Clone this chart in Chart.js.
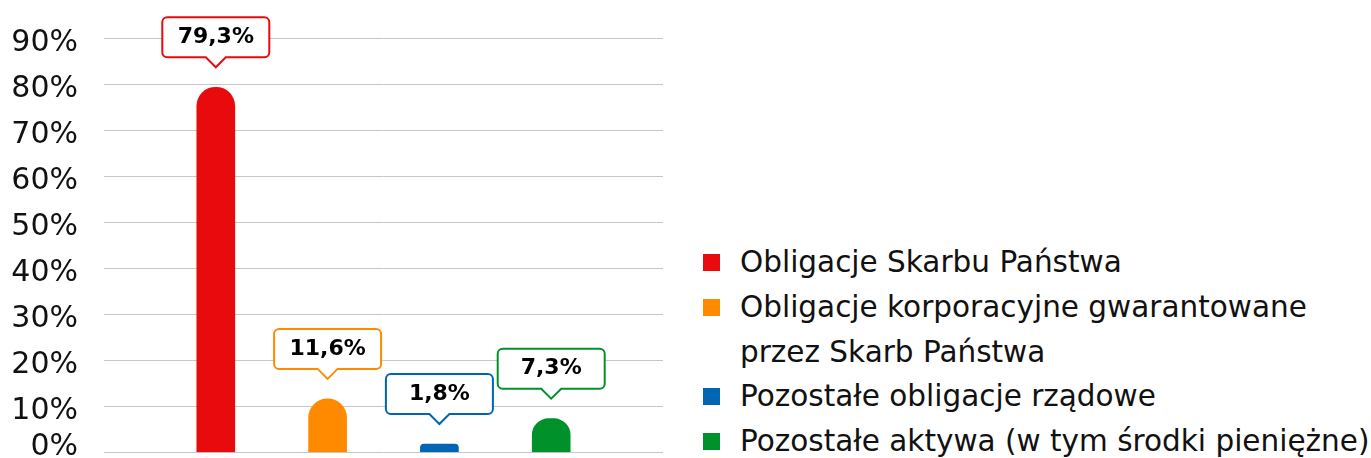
<!DOCTYPE html>
<html>
<head>
<meta charset="utf-8">
<script src="https://cdn.jsdelivr.net/npm/chart.js@4/dist/chart.umd.min.js"></script>
<style>
  body { margin: 0; background: #fff; width: 1371px; height: 458px; overflow: hidden; position: relative; font-family: "DejaVu Sans", sans-serif; }
  #wrap { position: absolute; left: 0; top: 0; width: 680px; height: 458px; }
  #legend { position: absolute; left: 703px; top: 240px; margin: 0; padding: 0; list-style: none; font-size: 29.5px; line-height: 44.75px; color: #111; white-space: nowrap; }
  #legend li { position: relative; padding-left: 37px; }
  #legend li span { position: absolute; left: 0; top: 14px; width: 17px; height: 17px; }
</style>
</head>
<body>
<div id="wrap"><canvas id="chart"></canvas></div>
<ul id="legend"></ul>
<script>
const categories = [
  "Obligacje Skarbu Państwa",
  ["Obligacje korporacyjne gwarantowane", "przez Skarb Państwa"],
  "Pozostałe obligacje rządowe",
  "Pozostałe aktywa (w tym środki pieniężne)"
];
const values = [79.3, 11.6, 1.8, 7.3];
const colors = ["#e80a0c", "#ff8a00", "#0065b3", "#00912b"];
const yTicks = [0, 10, 20, 30, 40, 50, 60, 70, 80, 90];

const fmt = v => v.toFixed(1).replace(".", ",") + "%";

// legend
const legend = document.getElementById("legend");
categories.forEach((c, i) => {
  const li = document.createElement("li");
  li.innerHTML = '<span style="background:' + colors[i] + '"></span>' + (Array.isArray(c) ? c.join("<br>") : c);
  legend.appendChild(li);
});

// callout boxes above bars
const callouts = {
  id: "callouts",
  afterDatasetsDraw(chart) {
    const ctx = chart.ctx;
    const meta = chart.getDatasetMeta(0);
    ctx.save();
    meta.data.forEach((bar, i) => {
      const v = chart.data.datasets[0].data[i];
      if (v == null) return;
      const col = colors[i - 1];
      const w = 107, h = 40, r = 5, gap = 30, tipH = 10, tipW = 10;
      const x0 = bar.x - w / 2, y1 = bar.y - gap, y0 = y1 - h;
      ctx.beginPath();
      ctx.moveTo(x0 + r, y0);
      ctx.lineTo(x0 + w - r, y0); ctx.arcTo(x0 + w, y0, x0 + w, y0 + r, r);
      ctx.lineTo(x0 + w, y1 - r); ctx.arcTo(x0 + w, y1, x0 + w - r, y1, r);
      ctx.lineTo(bar.x + tipW, y1); ctx.lineTo(bar.x, y1 + tipH); ctx.lineTo(bar.x - tipW, y1);
      ctx.lineTo(x0 + r, y1); ctx.arcTo(x0, y1, x0, y1 - r, r);
      ctx.lineTo(x0, y0 + r); ctx.arcTo(x0, y0, x0 + r, y0, r);
      ctx.closePath();
      ctx.fillStyle = "#fff"; ctx.fill();
      ctx.lineWidth = 2; ctx.strokeStyle = col; ctx.stroke();
      ctx.fillStyle = "#000";
      ctx.font = 'bold 22px "DejaVu Sans"';
      ctx.textAlign = "center"; ctx.textBaseline = "middle";
      ctx.fillText(fmt(v), bar.x, y0 + h / 2);
    });
    ctx.restore();
  }
};

new Chart(document.getElementById("chart"), {
  type: "bar",
  data: {
    labels: ["", ...categories.map(c => Array.isArray(c) ? c.join(" ") : c), ""],
    datasets: [{
      data: [null, ...values, null],
      backgroundColor: ["transparent", ...colors, "transparent"],
      barThickness: 38,
      borderRadius: 19,
      borderSkipped: "start"
    }]
  },
  options: {
    responsive: true,
    maintainAspectRatio: false,
    animation: false,
    layout: { padding: { top: 38, bottom: 5.7, left: 0, right: 17 } },
    plugins: { legend: { display: false }, tooltip: { enabled: false } },
    scales: {
      x: { display: false, offset: false },
      y: {
        min: 0, max: 90,
        border: { display: false },
        grid: { color: "#c6c6c6", drawTicks: false },
        afterBuildTicks: s => { s.ticks = yTicks.map(v => ({ value: v })); },
        afterFit: s => { s.width = 104; s.paddingTop = 0; s.paddingBottom = 0; },
        ticks: {
          padding: 26,
          labelOffset: 5,
          color: "#111",
          font: c => ({ family: "DejaVu Sans", size: 30, lineHeight: c.tick && c.tick.value === 0 ? 0.7 : 1.2 }),
          callback: v => v === 0 ? ["0%", ""] : v + "%"
        }
      }
    }
  },
  plugins: [callouts]
});
</script>
</body>
</html>
